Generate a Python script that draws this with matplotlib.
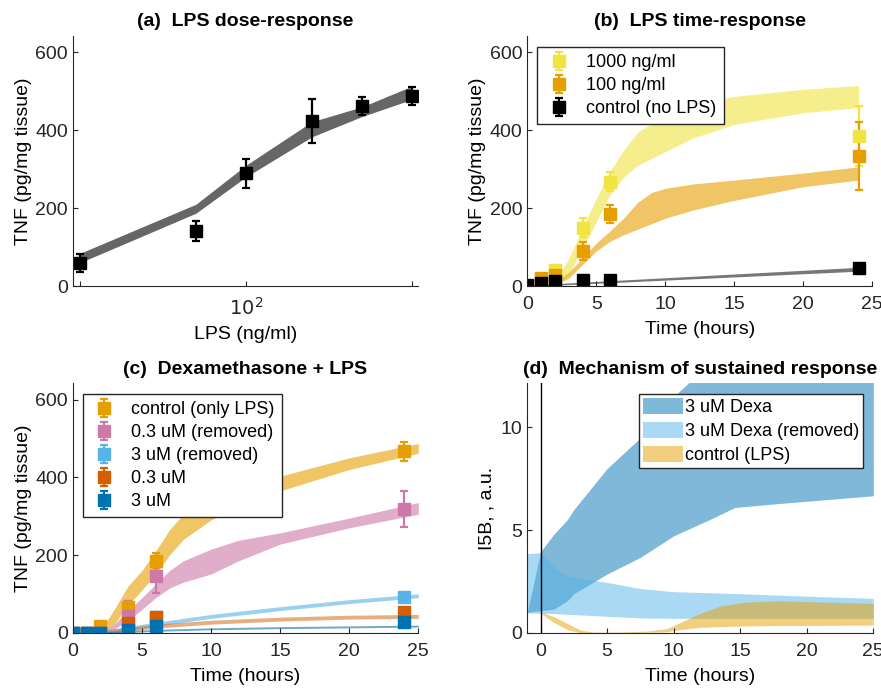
import matplotlib.pyplot as plt
import numpy as np
from matplotlib.patches import Patch
from matplotlib.ticker import NullLocator, FixedLocator, FixedFormatter

plt.rcParams['font.family'] = ['Liberation Sans', 'DejaVu Sans']
plt.rcParams['font.size'] = 14
plt.rcParams['axes.linewidth'] = 0.8
plt.rcParams['axes.edgecolor'] = '#262626'
plt.rcParams['xtick.color'] = '#262626'
plt.rcParams['ytick.color'] = '#262626'
plt.rcParams['xtick.direction'] = 'in'
plt.rcParams['ytick.direction'] = 'in'
plt.rcParams['xtick.major.size'] = 3.5
plt.rcParams['ytick.major.size'] = 3.5
plt.rcParams['xtick.major.pad'] = 7.5

# colours
YELLOW = '#F0E442'
ORANGE = '#E69F00'
PINK = '#CC79A7'
SKY = '#56B4E9'
RED = '#D55E00'
BLUE = '#0072B2'

# ---- (a) dose response
dose = [10, 50, 100, 250, 500, 1000]
dose_tnf = [58, 141, 289, 424, 462, 488]
dose_err = [23, 26, 37, 56, 23, 23]
dose_lo = [60, 187, 280, 383, 435, 479]
dose_hi = [84, 210, 310, 422, 460, 513]

# ---- (b) time response
t_meas = [0, 1, 2, 4, 6, 24]
tnf_1000 = [0, 12, 41, 150, 268, 385]
err_1000 = [3, 8, 13, 25, 25, 77]
tnf_100 = [0, 20, 28, 90, 186, 334]
err_100 = [3, 10, 10, 24, 23, 87]
tnf_ctrl = [2, 8, 13, 15, 15, 47]
err_ctrl = [3, 3, 3, 3, 3, 5]

tb_1000 = [0, 1, 2, 3, 4, 5, 6, 7, 8, 10, 12, 15, 20, 24]
lo_1000 = [0, 0, 2, 30, 95, 165, 235, 280, 310, 345, 380, 415, 445, 458]
hi_1000 = [0, 2, 12, 70, 150, 225, 295, 350, 395, 440, 465, 487, 505, 515]
tb_100 = [0, 1, 2, 3, 4, 5, 6, 7, 8, 9, 10, 12, 15, 20, 24]
lo_100 = [0, 0, 2, 20, 55, 90, 115, 132, 146, 160, 174, 195, 220, 255, 272]
hi_100 = [0, 1, 8, 35, 72, 110, 142, 175, 215, 240, 251, 262, 272, 290, 306]
tb_ctrl = [0, 2, 24]
lo_ctrl = [0, 2, 38]
hi_ctrl = [2, 6, 48]

# ---- (c) dexamethasone + LPS
dex_ctrl = [0, 0, 18, 65, 185, 467]
dex_ctrl_err = [2, 2, 8, 17, 19, 24]
dex_03r = [0, 0, 0, 44, 145, 319]
dex_03r_err = [1, 1, 1, 38, 44, 46]
dex_3r = [0, 0, 0, 9, 40, 92]
dex_3r_err = [1, 1, 1, 3, 5, 6]
dex_03 = [0, 0, 0, 24, 40, 52]
dex_03_err = [1, 1, 1, 3, 5, 6]
dex_3 = [0, 0, 0, 6, 16, 27]
dex_3_err = [1, 1, 1, 3, 4, 5]

tc = [2, 3, 4, 5, 6, 7, 8, 10, 12, 15, 20, 25]
c_ctrl_lo = [0, 22, 70, 110, 150, 200, 240, 290, 325, 365, 420, 462]
c_ctrl_hi = [5, 60, 120, 160, 210, 265, 305, 345, 375, 403, 450, 487]
c_03r_lo = [0, 10, 30, 60, 90, 115, 130, 151, 185, 228, 270, 305]
c_03r_hi = [2, 22, 56, 90, 125, 160, 185, 215, 238, 257, 295, 335]
tc_lin = [2, 6, 10, 15, 20, 25]
c_3r_mid = [0, 22, 42, 62, 80, 95]
c_03_mid = [0, 17, 27, 35, 40, 42]
c_3_mid = [0, 6, 10, 13, 15, 17]

# ---- (d) mechanism
td_dexa = [-1, 0, 1, 2, 2.5, 5, 7.5, 10, 12.5, 14.6, 17.5, 25]
dexa_lo = [1.0, 1.07, 1.15, 1.55, 1.9, 2.86, 3.67, 4.72, 5.45, 6.1, 6.27, 6.67]
dexa_hi = [1.0, 3.95, 4.8, 5.5, 6.0, 8.0, 9.5, 11.5, 13, 14, 14, 14]
td_rem = [-1, 0, 1, 2, 5, 7.5, 10, 15, 20, 25]
rem_lo = [0.95, 0.95, 0.93, 0.9, 0.8, 0.72, 0.7, 0.7, 0.7, 0.7]
rem_hi = [3.85, 3.9, 3.2, 2.75, 2.45, 2.15, 2.0, 1.9, 1.78, 1.67]
td_lps = [0, 1, 2, 3, 4, 6, 8, 9.5, 10.5, 12, 13.5, 15.5, 18, 25]
lps_lo = [0.95, 0.5, 0.15, 0.0, 0.0, 0.0, 0.02, 0.05, 0.15, 0.26, 0.3, 0.33, 0.35, 0.37]
lps_hi = [1.0, 0.78, 0.45, 0.13, 0.03, 0.03, 0.08, 0.2, 0.5, 0.94, 1.3, 1.5, 1.55, 1.43]

W, H = 881, 688
fig = plt.figure(figsize=(W / 100, H / 100), dpi=100)


def add_ax(left, top, right, bottom):
    return fig.add_axes([left / W, 1 - bottom / H, (right - left) / W, (bottom - top) / H])


ax_a = add_ax(72.7, 36, 418, 286)
ax_b = add_ax(527.3, 36, 872.3, 286)
ax_c = add_ax(72.7, 383.3, 418.3, 632.7)
ax_d = add_ax(527.3, 383.3, 873.3, 632.7)

for ax in (ax_a, ax_b, ax_c, ax_d):
    ax.spines['top'].set_visible(False)
    ax.spines['right'].set_visible(False)

eb = dict(fmt='s', markersize=8, elinewidth=1.6, capsize=3, capthick=1.6)
leg_kw = dict(fontsize=13, frameon=True, fancybox=False, framealpha=1, edgecolor='#262626',
              borderaxespad=0)

# (a)
ax_a.fill_between(dose, dose_lo, dose_hi, color='#666666', lw=0)
ax_a.errorbar(dose, dose_tnf, yerr=dose_err, color='black', **eb)
ax_a.set_xscale('log')
ax_a.set_xlim(9.03, 1091)
ax_a.set_ylim(0, 642)
ax_a.xaxis.set_major_locator(FixedLocator([10, 100, 1000]))
ax_a.xaxis.set_major_formatter(FixedFormatter(['', '$10^2$', '']))
ax_a.xaxis.set_minor_locator(NullLocator())
ax_a.set_yticks([0, 200, 400, 600])
ax_a.set_xlabel('LPS (ng/ml)', labelpad=5.5)
ax_a.set_ylabel('TNF (pg/mg tissue)', labelpad=2.5)
ax_a.set_title('(a)  LPS dose-response', fontweight='bold', fontsize=14, pad=7)

# (b)
ax_b.fill_between(tb_1000, lo_1000, hi_1000, color=YELLOW, alpha=0.6, lw=0)
ax_b.fill_between(tb_100, lo_100, hi_100, color=ORANGE, alpha=0.6, lw=0)
ax_b.fill_between(tb_ctrl, lo_ctrl, hi_ctrl, color='#555555', alpha=0.8, lw=0)
ax_b.errorbar(t_meas, tnf_1000, yerr=err_1000, color=YELLOW, label='1000 ng/ml', **eb)
ax_b.errorbar(t_meas, tnf_100, yerr=err_100, color=ORANGE, label='100 ng/ml', **eb)
ax_b.errorbar(t_meas, tnf_ctrl, yerr=err_ctrl, color='black', label='control (no LPS)', **eb)
ax_b.set_xlim(0, 25)
ax_b.set_ylim(0, 642)
ax_b.set_xticks([0, 5, 10, 15, 20, 25])
ax_b.set_yticks([0, 200, 400, 600])
ax_b.set_xlabel('Time (hours)', labelpad=5.5)
ax_b.set_ylabel('TNF (pg/mg tissue)', labelpad=2.5)
ax_b.set_title('(b)  LPS time-response', fontweight='bold', fontsize=14, pad=7)
ax_b.legend(loc='upper left', bbox_to_anchor=(0.029, 0.956), handlelength=1.6,
            handletextpad=0.7, borderpad=0.4, labelspacing=0.33, **leg_kw)

# (c)
ax_c.fill_between(tc, c_ctrl_lo, c_ctrl_hi, color=ORANGE, alpha=0.6, lw=0)
ax_c.fill_between(tc, c_03r_lo, c_03r_hi, color=PINK, alpha=0.6, lw=0)
ax_c.fill_between(tc_lin, np.array(c_3r_mid) - 5, np.array(c_3r_mid) + 5, color=SKY, alpha=0.6, lw=0)
ax_c.fill_between(tc_lin, np.array(c_03_mid) - 5, np.array(c_03_mid) + 5, color=RED, alpha=0.5, lw=0)
ax_c.fill_between(tc_lin, np.array(c_3_mid) - 2.5, np.array(c_3_mid) + 2.5, color=BLUE, alpha=0.6, lw=0)
ax_c.errorbar(t_meas, dex_ctrl, yerr=dex_ctrl_err, color=ORANGE, label='control (only LPS)', **eb)
ax_c.errorbar(t_meas, dex_03r, yerr=dex_03r_err, color=PINK, label='0.3 uM (removed)', **eb)
ax_c.errorbar(t_meas, dex_3r, yerr=dex_3r_err, color=SKY, label='3 uM (removed)', **eb)
ax_c.errorbar(t_meas, dex_03, yerr=dex_03_err, color=RED, label='0.3 uM', **eb)
ax_c.errorbar(t_meas, dex_3, yerr=dex_3_err, color=BLUE, label='3 uM', **eb)
ax_c.set_xlim(0, 25)
ax_c.set_ylim(0, 642)
ax_c.set_xticks([0, 5, 10, 15, 20, 25])
ax_c.set_yticks([0, 200, 400, 600])
ax_c.set_xlabel('Time (hours)', labelpad=5.5)
ax_c.set_ylabel('TNF (pg/mg tissue)', labelpad=2.5)
ax_c.set_title('(c)  Dexamethasone + LPS', fontweight='bold', fontsize=14, pad=7)
ax_c.legend(loc='upper left', bbox_to_anchor=(0.029, 0.957), handlelength=1.6,
            handletextpad=0.7, borderpad=0.4, labelspacing=0.33, **leg_kw)

# (d)
ax_d.fill_between(td_dexa, dexa_lo, dexa_hi, color=BLUE, alpha=0.5, lw=0)
ax_d.fill_between(td_rem, rem_lo, rem_hi, color=SKY, alpha=0.5, lw=0)
ax_d.fill_between(td_lps, lps_lo, lps_hi, color=ORANGE, alpha=0.5, lw=0)
ax_d.axvline(0, color='black', lw=1)
ax_d.set_xlim(-1, 25)
ax_d.set_ylim(0, 12.15)
ax_d.set_xticks([0, 5, 10, 15, 20, 25])
ax_d.set_yticks([0, 5, 10])
ax_d.set_xlabel('Time (hours)', labelpad=5.5)
ax_d.set_ylabel('I5B, , a.u.', labelpad=4)
ax_d.set_title('(d)  Mechanism of sustained response', fontweight='bold', fontsize=14, pad=7)
handles = [Patch(color=BLUE, alpha=0.5, lw=0), Patch(color=SKY, alpha=0.5, lw=0),
           Patch(color=ORANGE, alpha=0.5, lw=0)]
ax_d.legend(handles, ['3 uM Dexa', '3 uM Dexa (removed)', 'control (LPS)'],
            loc='upper right', bbox_to_anchor=(0.971, 0.957), handlelength=2.2,
            handleheight=1.0, handletextpad=0.15, borderpad=0.2, labelspacing=0.33, **leg_kw)

fig.savefig('out.png', dpi=100)
